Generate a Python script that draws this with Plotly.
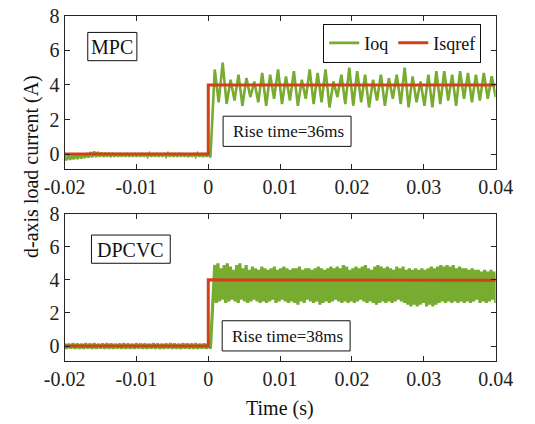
import numpy as np
import plotly.graph_objects as go

W, H = 535, 424

# ---------------- data ----------------
x_tick_vals = [-0.02, -0.01, 0, 0.01, 0.02, 0.03, 0.04]
x_tick_text = ["-0.02", "-0.01", "0", "0.01", "0.02", "0.03", "0.04"]
y_tick_vals = [0, 2, 4, 6, 8]

# reference current (both panels)
ref_t = [-0.02, 0.0, 0.0, 0.04]
ref_mpc = [0.0, 0.0, 4.0, 4.0]
ref_dpc = [0.0, 0.0, 4.0, 3.97]

# MPC measured current: upper / lower edges before the step
mpc_pre_hi = [-0.10, -0.08, -0.06, -0.02, 0.00, 0.02, 0.05, 0.12, 0.15, 0.12,
              0.10, 0.08, 0.08, 0.07, 0.06, 0.06, 0.05, 0.06, 0.05, 0.06,
              0.05, 0.06, 0.05, 0.04, 0.05, 0.06, 0.05, 0.05, 0.04, 0.05,
              0.05, 0.06, 0.05, 0.04, 0.05, 0.05, 0.04, 0.05, 0.04, 0.06]
mpc_pre_lo = [-0.35, -0.33, -0.30, -0.28, -0.25, -0.22, -0.20, -0.18, -0.17, -0.16,
              -0.16, -0.15, -0.16, -0.15, -0.14, -0.15, -0.14, -0.15, -0.14, -0.15,
              -0.14, -0.15, -0.14, -0.15, -0.14, -0.14, -0.15, -0.14, -0.15, -0.14,
              -0.15, -0.14, -0.15, -0.16, -0.15, -0.14, -0.15, -0.16, -0.15, -0.20]
# MPC measured current after the step: peaks / troughs
mpc_post_hi = [4.9, 5.3, 4.3, 4.6, 4.4, 4.2, 4.7, 4.6, 4.9, 4.5, 4.8, 4.3,
               4.9, 4.7, 4.9, 4.2, 4.6, 5.0, 4.8, 4.6, 4.3, 4.6, 4.4, 4.6,
               5.0, 4.5, 4.2, 4.6, 4.8, 4.8, 4.6, 4.8, 4.7, 4.6, 4.7, 4.5]
mpc_post_lo = [3.0, 2.9, 3.1, 2.8, 3.3, 3.0, 2.8, 3.2, 2.9, 3.1, 2.8, 3.2,
               2.9, 3.0, 2.7, 3.3, 2.9, 2.8, 3.0, 2.7, 3.1, 2.8, 3.2, 2.9,
               2.7, 3.0, 2.8, 2.7, 2.9, 3.1, 2.8, 3.2, 3.0, 3.1, 3.2, 3.3]

# DPCVC measured current: upper / lower edges before the step
dpc_pre_hi = [0.15, 0.14, 0.16, 0.15, 0.14, 0.16, 0.15, 0.16, 0.14, 0.15,
              0.16, 0.15, 0.14, 0.15, 0.16, 0.15, 0.14, 0.16, 0.15, 0.15,
              0.14, 0.16, 0.15, 0.14, 0.15, 0.16, 0.15, 0.14, 0.16, 0.15,
              0.15, 0.16, 0.14, 0.15, 0.16]
dpc_pre_lo = [-0.15, -0.14, -0.16, -0.15, -0.15, -0.14, -0.16, -0.15, -0.14, -0.15,
              -0.16, -0.15, -0.14, -0.15, -0.16, -0.15, -0.15, -0.14, -0.16, -0.15,
              -0.14, -0.15, -0.16, -0.15, -0.14, -0.15, -0.15, -0.16, -0.14, -0.15,
              -0.16, -0.15, -0.14, -0.15, -0.16]
# DPCVC measured current: peaks / troughs after the step
dpc_post_hi = [4.9, 5.0, 4.7, 4.9, 5.0, 4.8, 4.6, 4.9, 5.0, 4.7, 4.9, 4.6, 4.8,
               4.7, 4.6, 4.8, 4.7, 4.6, 4.7, 4.8, 4.6, 4.7, 4.8, 4.7, 4.6, 4.7,
               4.7, 4.8, 4.6, 4.7, 4.7, 4.6, 4.7, 4.8, 4.7, 4.6, 4.7, 4.8, 4.7,
               4.8, 4.7, 4.9, 4.8, 4.6, 4.7, 4.8, 4.7, 4.8, 4.9, 4.7, 4.6, 4.8,
               4.9, 4.8, 4.7, 4.8, 4.7, 4.6, 4.8, 4.7, 4.8, 4.6, 4.7, 4.6, 4.7,
               4.6, 4.7, 4.6, 4.7, 4.8, 4.7, 4.8, 4.9, 4.8, 4.9, 4.8, 4.9, 4.7,
               4.8, 4.7, 4.7, 4.6, 4.7, 4.6, 4.6, 4.5, 4.6, 4.5, 4.6, 4.5]
dpc_post_lo = [2.6, 2.7, 2.8, 2.6, 2.7, 2.8, 2.7, 2.6, 2.8, 2.7, 2.6, 2.7, 2.8,
               2.7, 2.6, 2.7, 2.6, 2.7, 2.8, 2.6, 2.7, 2.8, 2.7, 2.6, 2.7, 2.6,
               2.5, 2.7, 2.6, 2.8, 2.7, 2.6, 2.7, 2.5, 2.6, 2.7, 2.6, 2.7, 2.8,
               2.7, 2.6, 2.7, 2.6, 2.7, 2.6, 2.7, 2.8, 2.7, 2.6, 2.7, 2.6, 2.5,
               2.6, 2.7, 2.6, 2.7, 2.6, 2.7, 2.8, 2.7, 2.6, 2.5, 2.4, 2.5, 2.4,
               2.5, 2.6, 2.4, 2.5, 2.4, 2.5, 2.6, 2.7, 2.6, 2.7, 2.6, 2.7, 2.6,
               2.7, 2.6, 2.7, 2.6, 2.7, 2.8, 2.6, 2.7, 2.6, 2.7, 2.8, 2.6]

GREEN = "#77AC30"
RED = "#D2401A"
AX = "#262626"
FONT = "Liberation Serif, Times New Roman, serif"


def interleave(*cols):
    vals = []
    for group in zip(*cols):
        vals += list(group)
    return vals


def measured(pre, post):
    v1 = interleave(*pre)
    v2 = interleave(*post)
    t1 = np.linspace(-0.02, 0.0003, len(v1))
    t2 = np.linspace(0.0009, 0.04, len(v2))
    return list(t1) + list(t2), v1 + v2


fig = go.Figure()

panels = [
    ("x", "y", (mpc_pre_hi, mpc_pre_lo), (mpc_post_hi, mpc_post_lo), ref_mpc, True, 2.6),
    ("x2", "y2", (dpc_pre_hi, dpc_pre_lo), (dpc_post_hi, dpc_post_lo), ref_dpc, False, 3.2),
]
for xa, yax, pre, post, ref, show, lw in panels:
    t, v = measured(pre, post)
    fig.add_trace(go.Scatter(x=t, y=v, mode="lines", name="Ioq",
                             line=dict(color=GREEN, width=lw),
                             xaxis=xa, yaxis=yax, showlegend=show))
    fig.add_trace(go.Scatter(x=ref_t, y=ref, mode="lines", name="Isqref",
                             line=dict(color=RED, width=3),
                             xaxis=xa, yaxis=yax, showlegend=show))

xdom = [47 / W, 512 / W]
axis_common = dict(showline=True, linecolor=AX, linewidth=1, mirror="ticks",
                   ticks="inside", ticklen=5, tickcolor=AX, showgrid=False,
                   zeroline=False, tickfont=dict(family=FONT, size=20, color="#222"))

fig.update_layout(
    width=W, height=H, margin=dict(l=0, r=0, t=0, b=0),
    paper_bgcolor="white", plot_bgcolor="white",
    font=dict(family=FONT, color="#222"),
    xaxis=dict(domain=xdom, range=[-0.02, 0.04], anchor="y",
               tickvals=x_tick_vals, ticktext=x_tick_text, **axis_common),
    yaxis=dict(domain=[1 - 162 / H, 1 - 5 / H], range=[-0.85, 8], anchor="x",
               tickvals=y_tick_vals, **axis_common),
    xaxis2=dict(domain=xdom, range=[-0.02, 0.04], anchor="y2",
                tickvals=x_tick_vals, ticktext=x_tick_text, **axis_common),
    yaxis2=dict(domain=[1 - 359 / H, 1 - 208 / H], range=[-0.88, 8], anchor="x2",
                tickvals=y_tick_vals, **axis_common),
    legend=dict(orientation="h", x=326 / W, y=1 - 13 / H, xanchor="left", yanchor="top",
                bordercolor="#111", borderwidth=1, bgcolor="white",
                font=dict(family=FONT, size=18, color="#111")),
)


def box(x0, y0, x1, y1):
    fig.add_shape(type="rect", xref="paper", yref="paper",
                  x0=x0 / W, x1=x1 / W, y0=1 - y1 / H, y1=1 - y0 / H,
                  line=dict(color="#111", width=1), fillcolor="white", layer="above")


def label(text, x, y, size, anchor="center", angle=0):
    fig.add_annotation(text=text, xref="paper", yref="paper", x=x / W, y=1 - y / H,
                       xanchor=anchor, yanchor="middle", showarrow=False, textangle=angle,
                       font=dict(family=FONT, size=size, color="#111"))


box(72, 22, 125, 51)
label("MPC", 98.5, 37, 20)
box(218, 108, 356, 139)
label("Rise time=36ms", 226, 124, 17, anchor="left")
box(76, 230, 161, 259)
label("DPCVC", 118.5, 245, 20)
box(217, 318, 355, 349)
label("Rise time=38ms", 225, 334, 17, anchor="left")

label("d-axis load current (A)", 12, 160, 20, angle=-90)
label("Time (s)", 279, 408, 20)

fig.write_html("out.html")
